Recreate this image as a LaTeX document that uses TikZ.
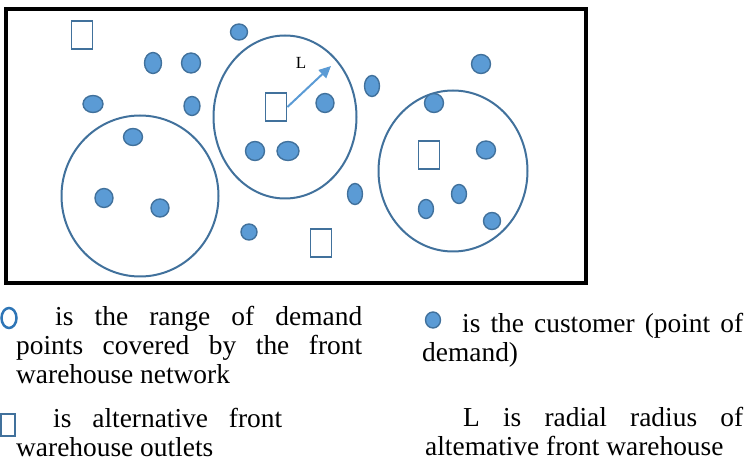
\documentclass[tikz,border=0pt]{standalone}
\usepackage{fontspec}
\setmainfont{Liberation Serif}
\usetikzlibrary{shapes.geometric,arrows.meta}
\definecolor{custfill}{HTML}{5B9BD5}
\definecolor{custline}{HTML}{41719C}
\definecolor{rangeblue}{HTML}{41719C}
\definecolor{legblue}{HTML}{2E75B6}
\tolerance=10000
\hbadness=10000
\tikzset{
  cust/.style={ellipse, draw=custline, fill=custfill, line width=1.4pt, inner sep=0pt},
  outlet/.style={rectangle, draw=rangeblue, fill=white, line width=1.8pt, inner sep=0pt,
    minimum width=21pt, minimum height=28pt},
  covrange/.style={ellipse, draw=rangeblue, line width=2pt, inner sep=0pt},
  legtext/.style={font=\fontsize{27.4}{29}\selectfont, align=justify, inner sep=0pt, anchor=base west}
}
\begin{document}
\begin{tikzpicture}[x=1pt, y=-1pt, >={Triangle[length=12pt,width=11pt]}]
    \useasboundingbox (0,0) rectangle (753,462);
    \draw[line width=3.2pt] (6,9) rectangle (586,283);

    \node[covrange, minimum width=157pt, minimum height=161pt] (cov1) at (140,196) {};
    \node[covrange, minimum width=143pt, minimum height=163pt] (cov2) at (285,117) {};
    \node[covrange, minimum width=149pt, minimum height=161pt] (cov3) at (453,171) {};

    \node[outlet] (w1) at (82,35) {};
    \node[outlet] (w2) at (276,107) {};
    \node[outlet] (w3) at (321,243) {};
    \node[outlet] (w4) at (429,155) {};

    \foreach \n/\x/\y/\w/\h in {1/239/32/17/16, 2/153/63/17/21, 3/191/63/19/20, 4/93/104/20/17,
        5/192/106/16/19, 6/133/137/19/17, 7/104/198/18/19, 8/160/208/18/18, 9/325/103/18/19,
        10/255/151/19/19, 11/288/151/22/19, 12/372/86/15/21, 13/355/194/15/21, 14/249/232/16/16,
        15/481/64/19/19, 16/434/103/19/19, 17/486/150/19/18, 18/459/194/15/19, 19/426/209/15/19,
        20/492/221/17/17}
      \node[cust, minimum width=\w pt, minimum height=\h pt] (d\n) at (\x,\y) {};

    % radius of the middle outlet
    \coordinate (tipL) at (331,66);
    \draw[->, custfill, line width=2pt] (w2.east) -- (tipL);
    \node[font=\fontsize{17}{20}\selectfont] (lab) at (301,63) {L};

    % legend
    \node[covrange, draw=legblue, line width=2.5pt, minimum width=15pt, minimum height=20pt] (kr) at (9,318) {};
    \node[outlet, minimum width=14pt, minimum height=22pt] (kw) at (8,425) {};
    \node[cust, minimum width=15pt, minimum height=16pt] (kc) at (433,320) {};

    \node[legtext, text width=346pt] (t1) at (16,326)
      {\hspace*{39pt}is the range of demand\linebreak points covered by the front\linebreak warehouse network};
    \node[legtext, text width=266pt] (t2) at (16,428)
      {\hspace*{37pt}is alternative front\linebreak warehouse outlets};
    \node[legtext, text width=321pt] (t3) at (422,333)
      {\hspace*{40pt}is the customer (point of\linebreak demand)};
    \node[legtext, text width=318pt] (t4) at (425,427)
      {\hspace*{38pt}L is radial radius of\linebreak altemative front warehouse};
\end{tikzpicture}
\end{document}
